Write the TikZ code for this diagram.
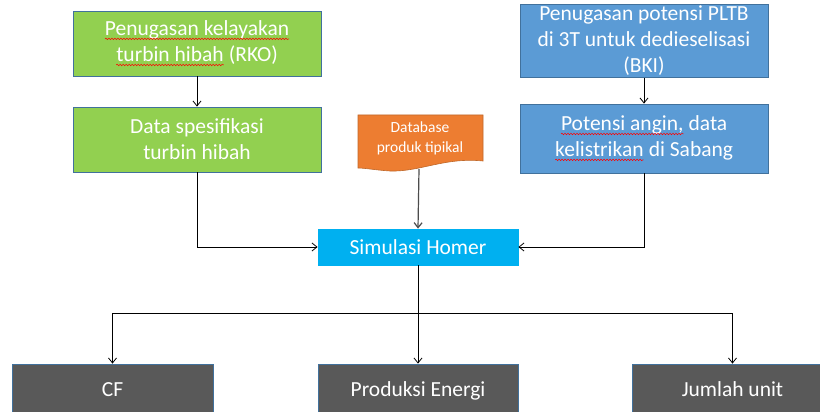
\documentclass[tikz,border=0pt]{standalone}
\usepackage{fontspec}
\setmainfont{Carlito}
\usetikzlibrary{arrows.meta,decorations.pathmorphing}
\newcommand\rwave[1]{\tikz[baseline=(w.base)]{\node[inner sep=0pt,outer sep=0pt,text=white,draw=none,fill=none,minimum width=0pt,minimum height=0pt](w){#1};
  \draw[red, line width=0.5pt, decorate, decoration={snake,amplitude=0.8pt,segment length=3pt}] ([yshift=-3pt]w.base west) -- ([yshift=-3pt]w.base east);}}
\definecolor{grn}{HTML}{92D050}
\definecolor{blu}{HTML}{5B9BD5}
\definecolor{edge}{HTML}{41719C}
\definecolor{cyn}{HTML}{00B0F0}
\definecolor{org}{HTML}{ED7D31}
\definecolor{orgedge}{HTML}{C0682A}
\definecolor{gry}{HTML}{595959}
\begin{document}
\begin{tikzpicture}[x=1pt,y=-1pt,
  box/.style={draw=edge, line width=0.8pt, text=white, align=center, inner sep=2pt,
    font=\fontsize{21.5}{26}\selectfont},
  gbox/.style={box, fill=grn, minimum width=248pt, minimum height=65pt},
  bbox/.style={box, fill=blu, minimum width=248pt},
  obox/.style={box, fill=gry, minimum width=201pt, minimum height=56pt, text height=14pt, text depth=5pt},
  arr/.style={draw=black, line width=0.8pt, -{Straight Barb[length=5pt,width=8pt]}}]
\clip (0,0) rectangle (820,412);
\fill[white] (0,0) rectangle (820,412);
% left column
\node[gbox] (g1) at (197,43.5) {\rwave{Penugasan kelayakan}\\\rwave{turbin hibah} (RKO)};
\node[gbox] (g2) at (197,139.5) {Data spesifikasi\\turbin hibah};
% right column
\node[bbox, minimum height=66pt] (b1) at (644,41) {Penugasan potensi PLTB\\di 3T untuk dedieselisasi\\(BKI)};
\node[bbox, minimum height=69pt] (b2) at (644,138.5) {\rwave{Potensi angin,} data\\\rwave{kelistrikan} di Sabang};
% database document
\draw[fill=org, draw=orgedge, line width=0.6pt] (358,115) -- (483,115) -- (483,161)
  .. controls (445,157) and (420,172) .. (390,171)
  .. controls (375,170) and (365,168) .. (358,168) -- cycle;
\node[text=white, align=center, font=\fontsize{15.5}{20}\selectfont] (db) at (420,138) {Database\\produk tipikal};
\coordinate (dbb) at (419,169);
% homer
\node[box, fill=cyn, draw=cyn, minimum width=200pt, minimum height=36pt] (homer) at (418,247) {Simulasi Homer};
% outputs
\node[obox] (cf) at (112.5,392) {CF};
\node[obox, minimum width=200pt] (pe) at (418,392) {Produksi Energi};
\node[obox] (ju) at (732.5,392) {Jumlah unit};
\coordinate (split) at (418,313);
% connectors
\draw[arr] (g1) -- (g2);
\draw[arr] (b1) -- (b2);
\draw[arr] (g2.south) |- (homer.west);
\draw[arr] (b2.south) |- (homer.east);
\draw[arr, draw=black!70, line width=1.2pt] (dbb) -- (homer.north);
\draw[arr] (homer.south) -- (pe.north);
\draw[arr] (split) -| (cf.north);
\draw[arr] (split) -| (ju.north);
\end{tikzpicture}
\end{document}
